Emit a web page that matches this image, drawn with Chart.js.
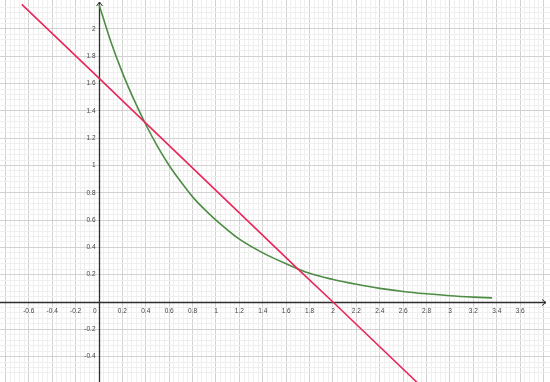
<!DOCTYPE html>
<html>
<head>
<meta charset="utf-8">
<script src="https://cdn.jsdelivr.net/npm/chart.js@4.4.1/dist/chart.umd.min.js"></script>
<style>
  html, body { margin: 0; padding: 0; background: #fff; }
  #graph { display: block; }
</style>
</head>
<body>
<canvas id="graph" width="550" height="382"></canvas>
<script>
// Green curve, points
const greenX = [0, 0.1, 0.2, 0.3, 0.4, 0.5, 0.6, 0.7, 0.8, 0.9, 1.0, 1.2, 1.4, 1.6, 1.8, 2.0, 2.2, 2.4, 2.6, 2.8, 3.0, 3.2, 3.36];
const greenY = [2.18, 1.91, 1.68, 1.48, 1.30, 1.14, 1.0, 0.88, 0.77, 0.68, 0.60, 0.46, 0.36, 0.28, 0.21, 0.165, 0.13, 0.10, 0.077, 0.06, 0.046, 0.036, 0.03];

// Red line
const redX = [-0.66, 0, 0.4, 1.69, 2, 2.72];
const redY = [2.18, 1.64, 1.31, 0.25, 0, -0.59];

// Axis tick labels
const xTicks = [-0.6, -0.4, -0.2, 0.2, 0.4, 0.6, 0.8, 1, 1.2, 1.4, 1.6, 1.8, 2, 2.2, 2.4, 2.6, 2.8, 3, 3.2, 3.4, 3.6];
const yTicks = [-0.4, -0.2, 0.2, 0.4, 0.6, 0.8, 1, 1.2, 1.4, 1.6, 1.8, 2];

function toPoints(xs, ys) {
    return xs.map((x, i) => ({ x: x, y: ys[i] }));
}

function gridColor(ctx) {
    const v = ctx.tick.value;
    const a = v / 0.04, b = v / 0.2;
    if (Math.abs(v) < 1e-9) return 'rgba(0,0,0,0)';
    if (Math.abs(b - Math.round(b)) < 1e-6) return '#d2d2d2';
    if (Math.abs(a - Math.round(a)) < 1e-6) return '#efefef';
    return 'rgba(0,0,0,0)';
}

// axes with arrows + number labels, like a function plotter
const axesPlugin = {
    id: 'axes',
    beforeDatasetsDraw(chart) {
        const c = chart.ctx;
        const xs = chart.scales.x, ys = chart.scales.y;
        const ox = Math.round(xs.getPixelForValue(0)) + 0.5;
        const oy = Math.round(ys.getPixelForValue(0)) + 0.5;
        const area = chart.chartArea;
        c.save();
        c.strokeStyle = '#2e2e2e';
        c.lineWidth = 1.3;
        c.beginPath();
        c.moveTo(area.left, oy); c.lineTo(area.right - 4, oy);
        c.moveTo(ox, area.bottom); c.lineTo(ox, area.top + 2);
        c.stroke();
        // arrow heads
        c.lineWidth = 1;
        c.beginPath();
        c.moveTo(area.right - 8, oy - 3); c.lineTo(area.right - 4, oy); c.lineTo(area.right - 8, oy + 3);
        c.moveTo(ox - 3, area.top + 6); c.lineTo(ox, area.top + 2); c.lineTo(ox + 3, area.top + 6);
        c.stroke();

        c.fillStyle = '#444';
        c.font = '6.5px "Liberation Sans", Arial, sans-serif';
        c.textBaseline = 'middle';
        c.textAlign = 'center';
        xTicks.forEach(v => {
            c.fillText(String(v), xs.getPixelForValue(v), oy + 9);
        });
        c.textAlign = 'right';
        c.fillText('0', ox - 3, oy + 9);
        yTicks.forEach(v => {
            c.fillText(String(v), ox - 4, ys.getPixelForValue(v));
        });
        c.restore();
    }
};

new Chart(document.getElementById('graph').getContext('2d'), {
    type: 'line',
    data: {
        datasets: [
            {
                label: 'line',
                data: toPoints(redX, redY),
                borderColor: '#e8275a',
                borderWidth: 1.6,
                pointRadius: 0,
                tension: 0
            },
            {
                label: 'curve',
                data: toPoints(greenX, greenY),
                borderColor: '#4e8c45',
                borderWidth: 1.6,
                pointRadius: 0,
                cubicInterpolationMode: 'monotone'
            }
        ]
    },
    options: {
        responsive: false,
        animation: false,
        layout: { padding: 0 },
        plugins: {
            legend: { display: false },
            tooltip: { enabled: false }
        },
        scales: {
            x: {
                type: 'linear',
                min: -0.846,
                max: 3.855,
                border: { display: false },
                grid: { color: gridColor, drawTicks: false, lineWidth: 1 },
                ticks: { display: false, stepSize: 0.04 }
            },
            y: {
                type: 'linear',
                min: -0.586,
                max: 2.212,
                border: { display: false },
                grid: { color: gridColor, drawTicks: false, lineWidth: 1 },
                ticks: { display: false, stepSize: 0.04 }
            }
        }
    },
    plugins: [axesPlugin]
});
</script>
</body>
</html>
